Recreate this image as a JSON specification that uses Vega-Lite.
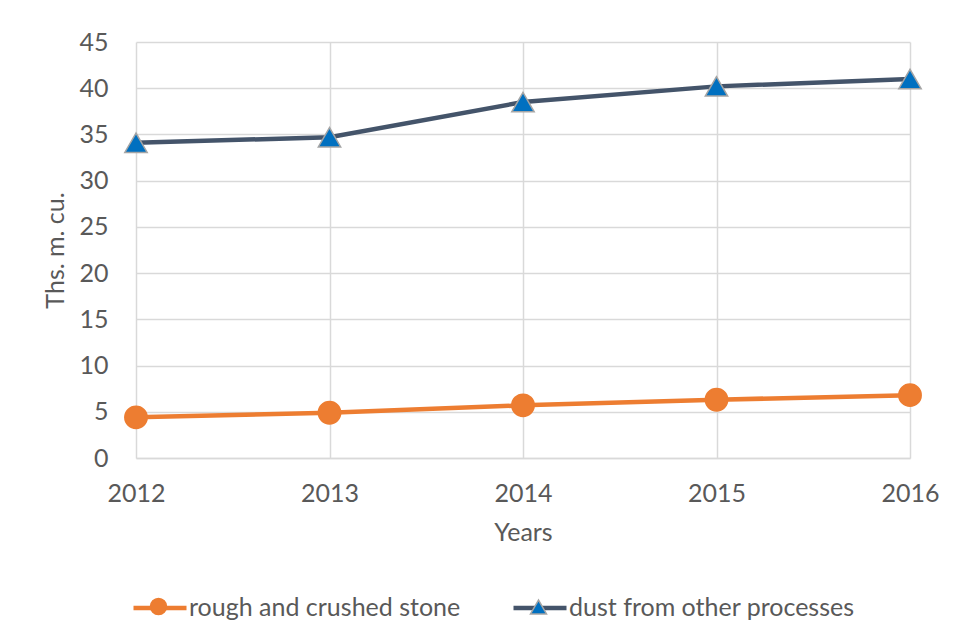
{
  "$schema": "https://vega.github.io/schema/vega-lite/v6.json",
  "width": 774,
  "height": 416,
  "autosize": {"type": "none"},
  "padding": {"left": 136, "top": 42, "right": 46, "bottom": 179},
  "background": "white",
  "config": {
    "view": {"stroke": null},
    "font": "Lato",
    "axis": {
      "labelFont": "Lato",
      "titleFont": "Lato",
      "labelFontSize": 25,
      "titleFontSize": 25,
      "labelColor": "#595959",
      "titleColor": "#595959",
      "titleFontWeight": "normal",
      "ticks": false,
      "grid": true,
      "gridColor": "#D9D9D9",
      "gridWidth": 1.5
    }
  },
  "data": {
    "values": [
      {"year": "2012", "series": "rough and crushed stone", "value": 4.4},
      {"year": "2013", "series": "rough and crushed stone", "value": 4.9},
      {"year": "2014", "series": "rough and crushed stone", "value": 5.7},
      {"year": "2015", "series": "rough and crushed stone", "value": 6.3},
      {"year": "2016", "series": "rough and crushed stone", "value": 6.8},
      {"year": "2012", "series": "dust from other processes", "value": 34.1},
      {"year": "2013", "series": "dust from other processes", "value": 34.7},
      {"year": "2014", "series": "dust from other processes", "value": 38.5},
      {"year": "2015", "series": "dust from other processes", "value": 40.2},
      {"year": "2016", "series": "dust from other processes", "value": 41.0}
    ]
  },
  "encoding": {
    "x": {
      "field": "year",
      "type": "ordinal",
      "scale": {"type": "point", "padding": 0},
      "axis": {
        "title": "Years",
        "labelAngle": 0,
        "domain": true,
        "domainColor": "#D9D9D9",
        "domainWidth": 1.5,
        "labelPadding": 23,
        "titlePadding": 14
      }
    },
    "y": {
      "field": "value",
      "type": "quantitative",
      "scale": {"domain": [0, 45], "nice": false},
      "axis": {
        "title": "Ths. m. cu.",
        "values": [0, 5, 10, 15, 20, 25, 30, 35, 40, 45],
        "domain": false,
        "labelPadding": 28,
        "titlePadding": 10
      }
    }
  },
  "layer": [
    {
      "mark": {"type": "line", "strokeWidth": 4.5},
      "encoding": {
        "color": {
          "field": "series",
          "type": "nominal",
          "sort": ["rough and crushed stone", "dust from other processes"],
          "scale": {"range": ["#ED7D31", "#44546A"]},
          "legend": {
            "orient": "none",
            "legendX": -5,
            "legendY": 537,
            "direction": "horizontal",
            "title": null,
            "symbolType": "stroke",
            "symbolSize": 2809,
            "symbolStrokeWidth": 4.5,
            "labelFont": "Lato",
            "labelFontSize": 25,
            "labelColor": "#595959",
            "labelLimit": 500,
            "labelOffset": 0,
            "columnPadding": 43,
            "padding": 0,
            "gridAlign": "each"
          }
        }
      }
    },
    {
      "transform": [{"calculate": "datum.series", "as": "marker"}],
      "mark": {"type": "point", "filled": true, "opacity": 1, "size": 500, "strokeWidth": 1.5},
      "encoding": {
        "shape": {
          "field": "marker",
          "type": "nominal",
          "scale": {
            "domain": ["rough and crushed stone", "dust from other processes"],
            "range": ["circle", "triangle-up"]
          },
          "legend": {
            "orient": "none",
            "legendX": 13.5,
            "legendY": 555.5,
            "direction": "horizontal",
            "title": null,
            "symbolSize": 256,
            "symbolStrokeWidth": 1.5,
            "labelExpr": "''",
            "labelOffset": 0,
            "columnPadding": 358,
            "padding": 0,
            "gridAlign": "each"
          }
        },
        "fill": {
          "field": "marker",
          "type": "nominal",
          "scale": {
            "domain": ["rough and crushed stone", "dust from other processes"],
            "range": ["#ED7D31", "#0070C0"]
          },
          "legend": {
            "orient": "none",
            "legendX": 13.5,
            "legendY": 555.5,
            "direction": "horizontal",
            "title": null,
            "symbolSize": 256,
            "symbolStrokeWidth": 1.5,
            "labelExpr": "''",
            "labelOffset": 0,
            "columnPadding": 358,
            "padding": 0,
            "gridAlign": "each"
          }
        },
        "stroke": {
          "field": "marker",
          "type": "nominal",
          "scale": {
            "domain": ["rough and crushed stone", "dust from other processes"],
            "range": ["#ED7D31", "#A5A5A5"]
          },
          "legend": {
            "orient": "none",
            "legendX": 13.5,
            "legendY": 555.5,
            "direction": "horizontal",
            "title": null,
            "symbolSize": 256,
            "symbolStrokeWidth": 1.5,
            "labelExpr": "''",
            "labelOffset": 0,
            "columnPadding": 358,
            "padding": 0,
            "gridAlign": "each"
          }
        }
      }
    }
  ]
}
